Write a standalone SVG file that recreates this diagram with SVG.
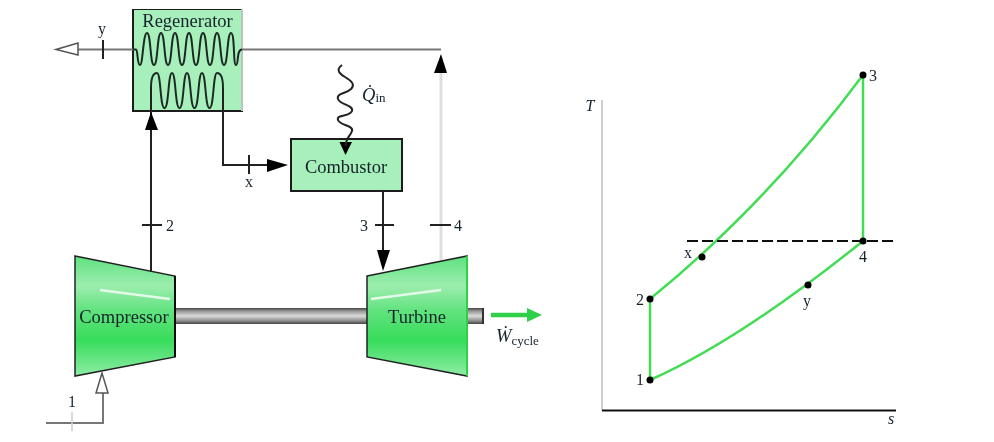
<svg xmlns="http://www.w3.org/2000/svg" width="994" height="442" viewBox="0 0 994 442">
<style>
text{font-family:"Liberation Serif","Times New Roman",serif;fill:#16242c}
.lab{font-size:18.500px}
.small{font-size:16px}
.it{font-style:italic}
.box{fill:#a8f0bb;stroke:#1a1a1a;stroke-width:2}
.mach{fill:url(#gr);stroke:#222;stroke-width:1.5}
.line{fill:none;stroke:#222;stroke-width:2}
.gray{fill:none;stroke:#777;stroke-width:2}
.pale{fill:none;stroke:#dedede;stroke-width:3}
.cyc{fill:none;stroke:#43dc55;stroke-width:2.500}
.hl{fill:none;stroke:#e4fae9;stroke-width:2.500}
.coil{fill:none;stroke:#1f2b25;stroke-width:2}
.pt{fill:#000}
</style>
<defs>
<linearGradient id="gr" x1="0" y1="0" x2="0" y2="1">
<stop offset="0" stop-color="#5ee280"/>
<stop offset="0.25" stop-color="#9cedae"/>
<stop offset="0.45" stop-color="#62e37f"/>
<stop offset="0.7" stop-color="#38dc5c"/>
<stop offset="1" stop-color="#8eeda5"/>
</linearGradient>
<linearGradient id="sh" x1="0" y1="0" x2="0" y2="1">
<stop offset="0" stop-color="#444"/>
<stop offset="0.2" stop-color="#999"/>
<stop offset="0.5" stop-color="#dcdcdc"/>
<stop offset="0.8" stop-color="#8c8c8c"/>
<stop offset="1" stop-color="#444"/>
</linearGradient>
<filter id="soft" x="0" y="0" width="100%" height="100%"><feGaussianBlur stdDeviation="0.7"/></filter>
</defs>
<rect width="994" height="442" fill="#fff"/>
<g filter="url(#soft)">
<g id="shaft">
<rect x="175" y="308" width="192" height="16" fill="url(#sh)"/>
<rect x="467" y="308" width="16" height="16" fill="url(#sh)"/>
<path d="M483 308V324" stroke="#333" stroke-width="2"/>
</g>
<g id="regenerator">
<rect class="box" x="133" y="9" width="109" height="102"/>
<path d="M242 9V111" stroke="#b8c8bc" stroke-width="2"/>
<path class="coil" d="M133 49.500H136C138 49.500 137 65 140 65C143 65 143 33 147 33C151 33 150 65 154 65C158 65 157 33 161 33C165 33 164 65 168 65C172 65 171 33 175 33C179 33 178 65 182 65C186 65 185 33 189 33C193 33 192 65 196 65C200 65 199 33 203 33C207 33 206 65 210 65C214 65 213 33 217 33C221 33 220 65 224 65C228 65 227 33 231 33C235 33 233 65 236 65C239 65 236 49.500 242 49.500"/>
<path class="coil" d="M151 88C151 78 153 73 157 73C161 73 160 108 164.500 108C169 108 168 73 172 73C176 73 175 108 179.500 108C184 108 183 73 187 73C191 73 190 108 194.500 108C199 108 198 73 202 73C206 73 205 108 209.500 108C214 108 213 73 217 73C221 73 223 78 223 88"/>
<text class="lab" x="187.500" y="27" text-anchor="middle">Regenerator</text>
</g>
<g id="combustor">
<rect class="box" x="291" y="139" width="111" height="52"/>
<text class="lab" x="346" y="173" text-anchor="middle">Combustor</text>
</g>
<g id="compressor">
<path class="mach" d="M75 256L175 276V357L75 376Z"/>
<path d="M175 276V357" stroke="#111" stroke-width="2"/>
<path class="hl" d="M100 290L170 299"/>
<text class="lab" x="124" y="323" text-anchor="middle">Compressor</text>
</g>
<g id="turbine">
<path class="mach" d="M367 276L467 256V376L367 357Z"/>
<path d="M467 256V376" stroke="#2fd04a" stroke-width="2"/>
<path class="hl" d="M371 299L441 290"/>
<text class="lab" x="417" y="323" text-anchor="middle">Turbine</text>
</g>
<g id="connectors">
<path class="pale" d="M441 60V260"/>
<path class="gray" d="M77 49.500H133M242 49.500H441"/>
<path class="line" d="M151 271V88"/>
<path class="line" d="M223 88V165H270"/>
<path class="line" d="M383 191V255"/>
<path class="line" d="M103 40V59"/>
<path class="line" d="M249 155V174"/>
<path class="line" d="M142 225H162M375 225H394M430 225H451"/>
<path class="gray" d="M46 423H103V393"/>
<path d="M72 412V431" stroke="#ccc" stroke-width="1.500"/>
<path d="M78 43L56 49.500L78 55Z" fill="#fff" stroke="#555" stroke-width="1.500"/>
<path d="M102 373L96 393H108Z" fill="#fff" stroke="#555" stroke-width="1.500"/>
<path d="M151 112L145 130H158Z" fill="#000"/>
<path d="M288 165L267 159V172Z" fill="#000"/>
<path d="M441 54L434 73H447Z" fill="#000"/>
<path d="M383 271L377 250H390Z" fill="#000"/>
<path d="M345.500 155L339.500 142H352Z" fill="#000"/>
<path d="M342 65C335 70 340 74 345 77S356 84 351 89S336 93 338 99S354 105 352 111S336 114 338 120S354 125 352 131S346 137 345.500 146" fill="none" stroke="#222" stroke-width="2"/>
<path d="M491 315H529" stroke="#2fd04a" stroke-width="4.500" fill="none"/>
<path d="M542 315L527 308V322Z" fill="#2fd04a"/>
</g>
<g id="labels">
<text class="small" x="102" y="34" text-anchor="middle">y</text>
<text class="small" x="249" y="187" text-anchor="middle">x</text>
<text class="small" x="166" y="231">2</text>
<text class="small" x="360" y="231">3</text>
<text class="small" x="454" y="231">4</text>
<text class="small" x="72" y="407" text-anchor="middle">1</text>
<text class="lab it" x="362" y="101">Q̇<tspan font-size="13" font-style="normal" dy="1">in</tspan></text>
<text class="lab it" x="496" y="342">Ẇ<tspan font-size="13" font-style="normal" dy="3">cycle</tspan></text>
</g>
<g id="ts-diagram">
<path d="M602 100V410" fill="none" stroke="#cfcfcf" stroke-width="2"/>
<path d="M602 410.500H896" fill="none" stroke="#111" stroke-width="2"/>
<path class="cyc" d="M650 299Q767 204 863 75V241Q740 340 650 380Z"/>
<path d="M687 241H895" fill="none" stroke="#111" stroke-width="2" stroke-dasharray="11 4"/>
<circle class="pt" cx="863" cy="75" r="3.500"/>
<circle class="pt" cx="863" cy="241" r="3.500"/>
<circle class="pt" cx="702" cy="257" r="3.500"/>
<circle class="pt" cx="808" cy="285" r="3.500"/>
<circle class="pt" cx="650" cy="299" r="3.500"/>
<circle class="pt" cx="650" cy="380" r="3.500"/>
<text class="small it" x="590" y="111" text-anchor="middle">T</text>
<text class="small it" x="891" y="424" text-anchor="middle">s</text>
<text class="small" x="869" y="81">3</text>
<text class="small" x="863" y="262" text-anchor="middle">4</text>
<text class="small" x="688" y="258" text-anchor="middle">x</text>
<text class="small" x="807" y="306" text-anchor="middle">y</text>
<text class="small" x="640" y="305" text-anchor="middle">2</text>
<text class="small" x="640" y="385" text-anchor="middle">1</text>
</g>
</g>
</svg>
